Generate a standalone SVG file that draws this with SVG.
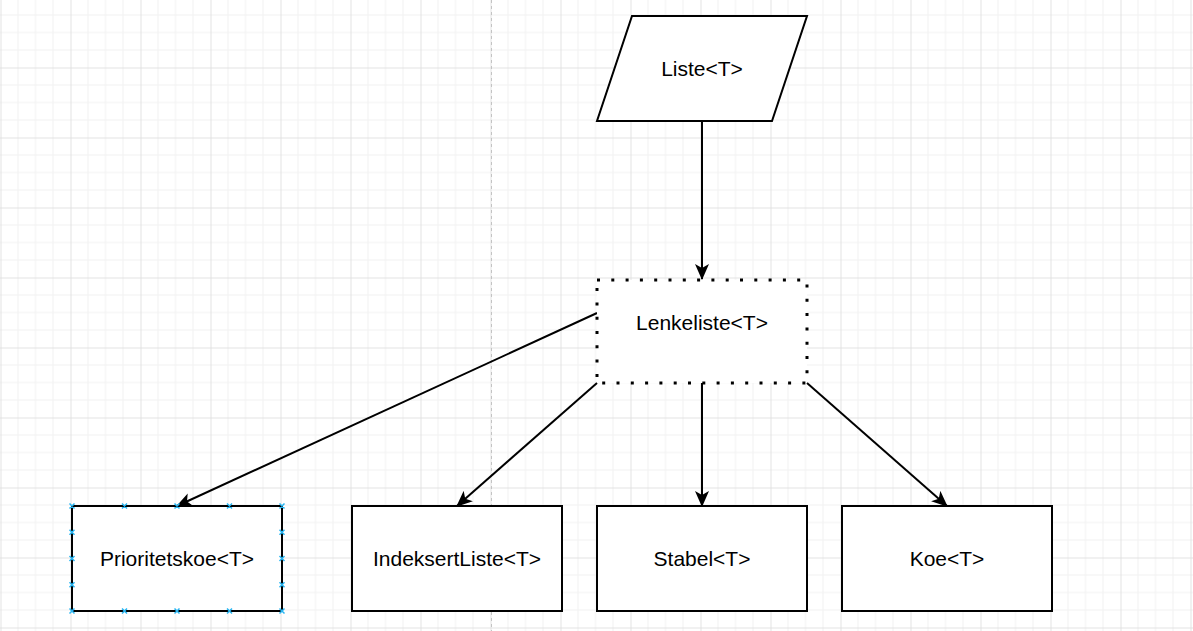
<svg xmlns="http://www.w3.org/2000/svg" width="1193" height="631" viewBox="0 0 1193 631">
<style>
  .box { fill: #ffffff; stroke: #000000; stroke-width: 2; }
  .dotted { fill: #ffffff; stroke: #000000; stroke-width: 3; stroke-dasharray: 3 11.3; }
  .lbl { font-family: "Liberation Sans", Arial, sans-serif; font-size: 21px; fill: #000000; text-anchor: middle; }
  .edge { fill: none; stroke: #000000; stroke-width: 2; marker-end: url(#arrow); }
  .sel { stroke: #29b6f2; stroke-width: 1.5; fill: none; }
</style>
<defs>
  <marker id="arrow" markerUnits="userSpaceOnUse" viewBox="0 0 16 14" refX="15" refY="7" markerWidth="16" markerHeight="14" orient="auto">
    <path d="M0,0 L16,7 L0,14 L4,7 Z" fill="#000000"/>
  </marker>
  <pattern id="grid" patternUnits="userSpaceOnUse" x="0.5" y="-2.5" width="70" height="70">
    <path d="M17.5,0 V70 M35,0 V70 M52.5,0 V70 M0,17.5 H70 M0,35 H70 M0,52.5 H70" stroke="#f1f1f1" stroke-width="1" fill="none"/>
    <path d="M0.5,0 V70 M0,0.5 H70" stroke="#e2e2e2" stroke-width="1" fill="none"/>
  </pattern>
</defs>
<rect x="0" y="0" width="1193" height="631" fill="#ffffff"/>
<rect x="0" y="0" width="1193" height="631" fill="url(#grid)"/>
<line x1="491.5" y1="0" x2="491.5" y2="631" stroke="#c4c4c4" stroke-width="1" stroke-dasharray="3 3"/>

<g id="connectors">
  <path class="edge" d="M702,121 L702,279"/>
  <path class="edge" d="M597,313 L177,506"/>
  <path class="edge" d="M597,383 L457,506"/>
  <path class="edge" d="M702,383 L702,506"/>
  <path class="edge" d="M807,383 L947,506"/>
</g>

<g id="node-liste">
  <polygon class="box" points="632,16 807,16 772,121 597,121"/>
  <text class="lbl" x="702" y="76">Liste&lt;T&gt;</text>
</g>

<g id="node-lenkeliste">
  <rect class="dotted" x="597" y="280" width="210" height="103"/>
  <text class="lbl" x="702" y="330">Lenkeliste&lt;T&gt;</text>
</g>

<g id="node-prioritetskoe">
  <rect class="box" x="72" y="506" width="210" height="105"/>
  <text class="lbl" x="177" y="566">Prioritetskoe&lt;T&gt;</text>
  <path class="sel" d="M69.5,503.5 l5,5 m0,-5 l-5,5 M122,503.5 l5,5 m0,-5 l-5,5 M174.5,503.5 l5,5 m0,-5 l-5,5 M227,503.5 l5,5 m0,-5 l-5,5 M279.5,503.5 l5,5 m0,-5 l-5,5 M69.5,608.5 l5,5 m0,-5 l-5,5 M122,608.5 l5,5 m0,-5 l-5,5 M174.5,608.5 l5,5 m0,-5 l-5,5 M227,608.5 l5,5 m0,-5 l-5,5 M279.5,608.5 l5,5 m0,-5 l-5,5 M69.5,529.75 l5,5 m0,-5 l-5,5 M69.5,556 l5,5 m0,-5 l-5,5 M69.5,582.25 l5,5 m0,-5 l-5,5 M279.5,529.75 l5,5 m0,-5 l-5,5 M279.5,556 l5,5 m0,-5 l-5,5 M279.5,582.25 l5,5 m0,-5 l-5,5"/>
</g>

<g id="node-indeksertliste">
  <rect class="box" x="352" y="506" width="210" height="105"/>
  <text class="lbl" x="457" y="566">IndeksertListe&lt;T&gt;</text>
</g>

<g id="node-stabel">
  <rect class="box" x="597" y="506" width="210" height="105"/>
  <text class="lbl" x="702" y="566">Stabel&lt;T&gt;</text>
</g>

<g id="node-koe">
  <rect class="box" x="842" y="506" width="210" height="105"/>
  <text class="lbl" x="947" y="566">Koe&lt;T&gt;</text>
</g>
</svg>
